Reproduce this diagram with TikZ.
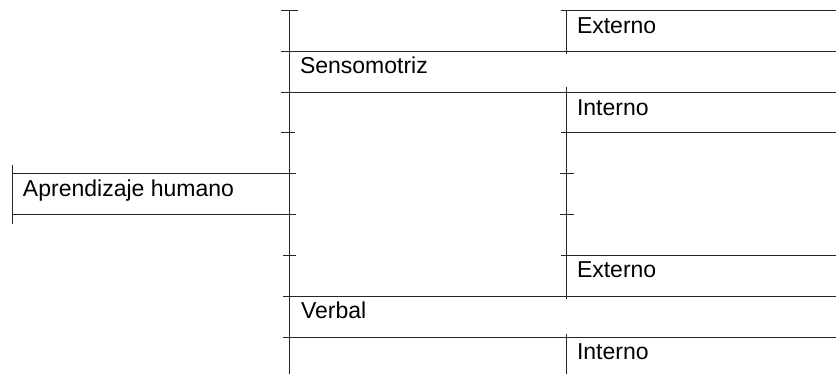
\documentclass[tikz,border=0pt]{standalone}
\usepackage{fontspec}
\setmainfont{Liberation Sans}
\usetikzlibrary{positioning}
\tikzset{%
   rule/.style={
      line width=1pt,
      draw=black!85
   },
   lbl/.style={
      anchor=base west,
      inner sep=0pt,
      outer sep=0pt,
      font=\fontsize{23}{27}\selectfont
   },
}

\begin{document}
\begin{tikzpicture}[x=1pt, y=-1pt]
      \useasboundingbox (0,0) rectangle (836,374);
      % left box
      \draw[rule] (12.7,165) -- (12.7,224);
      \draw[rule] (12.7,174) -- (296,174);
      \draw[rule] (12.7,215) -- (296,215);
      \node[lbl] (aprend) at (23,196.7) {Aprendizaje humano};
      % middle column
      \draw[rule] (289.3,11) -- (289.3,374);
      \draw[rule] (281,11) -- (298,11);
      \draw[rule] (281,133) -- (295,133);
      \draw[rule] (283,256) -- (296,256);
      \foreach \y/\x in {51.7/281, 93/281, 296.5/283, 337.5/283}
         \draw[rule] (\x,\y) -- (836,\y);
      \node[lbl] (senso) at (300,74) {Sensomotriz};
      \node[lbl] (verbal) at (301,319) {Verbal};
      % right column
      \draw[rule] (566.5,11) -- (566.5,54);
      \draw[rule] (566.5,87) -- (566.5,299);
      \draw[rule] (566.5,334) -- (566.5,374);
      \foreach \y in {11, 133, 256}
         \draw[rule] (561,\y) -- (836,\y);
      \draw[rule] (560,174) -- (574,174);
      \draw[rule] (560,215) -- (574,215);
      \node[lbl] (ext1) at (577,33.3) {Externo};
      \node[lbl] (int1) at (577,115.3) {Interno};
      \node[lbl] (ext2) at (577,277.5) {Externo};
      \node[lbl] (int2) at (577,359.5) {Interno};
   \end{tikzpicture}
\end{document}
